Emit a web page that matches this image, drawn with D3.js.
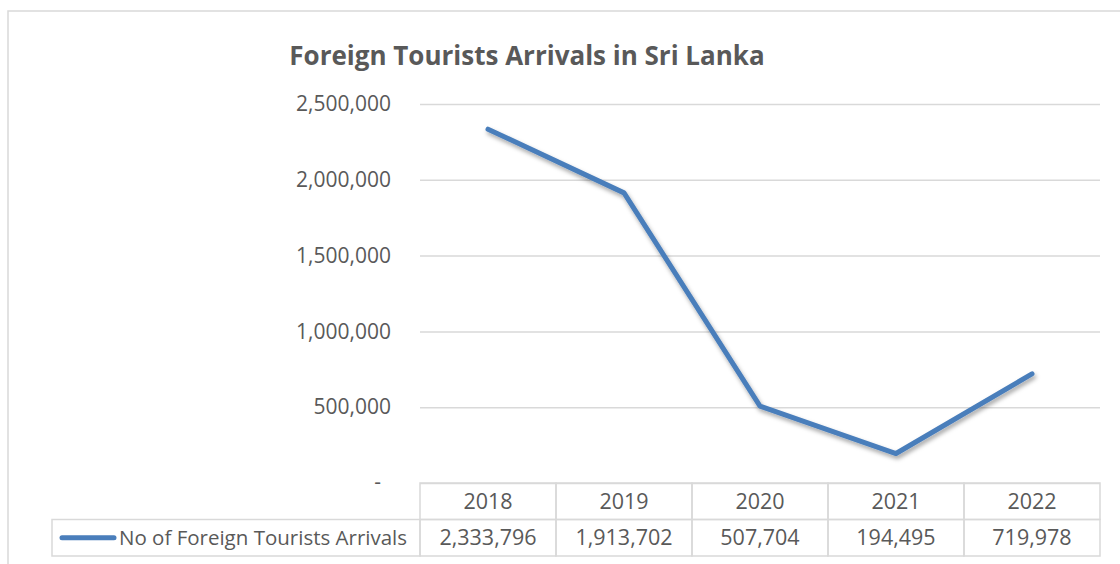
<!DOCTYPE html>
<html>
<head>
<meta charset="utf-8">
<script src="https://cdn.jsdelivr.net/npm/d3@7"></script>
<style>
  body { margin: 0; background: #fff; }
  svg { display: block; font-family: "Open Sans", sans-serif; }
</style>
</head>
<body>
<div id="chart"></div>
<script>
// data
const years = ['2018', '2019', '2020', '2021', '2022']
const arrivals = [2333796, 1913702, 507704, 194495, 719978]
const yTicks = [0, 500000, 1000000, 1500000, 2000000, 2500000]
const seriesName = 'No of Foreign Tourists Arrivals'
const chartTitle = 'Foreign Tourists Arrivals in Sri Lanka'

const width = 1120, height = 564
const plot = { left: 420, right: 1100, top: 104, bottom: 483 }
const rowH = 36.5
const textColor = '#595959'
const gridColor = '#d9d9d9'
const lineColor = '#4a7ebb'

const svg = d3.select('#chart').append('svg')
    .attr('width', width)
    .attr('height', height)

// drop shadow for the series line
const defs = svg.append('defs')
defs.append('filter')
    .attr('id', 'shadow')
    .attr('x', '-10%').attr('y', '-10%')
    .attr('width', '120%').attr('height', '130%')
    .append('feDropShadow')
    .attr('dx', 1.5).attr('dy', 3)
    .attr('stdDeviation', 2)
    .attr('flood-color', '#000')
    .attr('flood-opacity', 0.35)

// chart area border (top + left visible)
svg.append('path')
    .attr('d', `M8,${height} V11 H${width}`)
    .attr('fill', 'none')
    .attr('stroke', gridColor)
    .attr('stroke-width', 1.5)

// title
svg.append('text')
    .attr('x', 527)
    .attr('y', 65)
    .attr('text-anchor', 'middle')
    .attr('fill', textColor)
    .style('font-size', '26px')
    .style('font-weight', 'bold')
    .text(chartTitle)

const x = d3.scaleBand()
    .domain(years)
    .range([plot.left, plot.right])
    .padding(0)

const y = d3.scaleLinear()
    .domain([0, 2500000])
    .range([plot.bottom, plot.top])

// y axis with gridlines
const yAxis = d3.axisLeft(y)
    .tickValues(yTicks)
    .tickSize(plot.right - plot.left)
    .tickPadding(29)
    .tickFormat(d => d === 0 ? '-' : d3.format(',')(d))

const gy = svg.append('g')
    .attr('transform', `translate(${plot.right},0)`)
    .call(yAxis)
gy.select('.domain').remove()
gy.selectAll('.tick line')
    .attr('stroke', gridColor)
    .attr('stroke-width', 1.5)
gy.selectAll('.tick text')
    .attr('fill', textColor)
    .style('font-size', '21px')
    .style('font-family', '"Open Sans", sans-serif')
gy.selectAll('.tick')
    .filter(d => d === 0)
    .select('text')
    .attr('dx', -10)
    .attr('dy', '0.28em')

// line
const line = d3.line()
    .x((d, i) => x(years[i]) + x.bandwidth() / 2)
    .y(d => y(d))

svg.append('path')
    .datum(arrivals)
    .attr('d', line)
    .attr('fill', 'none')
    .attr('stroke', lineColor)
    .attr('stroke-width', 5)
    .attr('stroke-linejoin', 'round')
    .attr('stroke-linecap', 'round')
    .attr('filter', 'url(#shadow)')

// data table
const table = svg.append('g')
    .attr('fill', 'none')
    .attr('stroke', gridColor)
    .attr('stroke-width', 1.5)

table.selectAll('.hcell')
    .data(years)
    .join('rect')
    .attr('class', 'hcell')
    .attr('x', d => x(d))
    .attr('y', plot.bottom)
    .attr('width', x.bandwidth())
    .attr('height', rowH)

table.selectAll('.vcell')
    .data(years)
    .join('rect')
    .attr('class', 'vcell')
    .attr('x', d => x(d))
    .attr('y', plot.bottom + rowH)
    .attr('width', x.bandwidth())
    .attr('height', rowH)

table.append('rect')
    .attr('x', 52)
    .attr('y', plot.bottom + rowH)
    .attr('width', plot.left - 52)
    .attr('height', rowH)

svg.selectAll('.year-label')
    .data(years)
    .join('text')
    .attr('class', 'year-label')
    .attr('x', d => x(d) + x.bandwidth() / 2)
    .attr('y', plot.bottom + rowH / 2)
    .attr('dy', '0.35em')
    .attr('text-anchor', 'middle')
    .attr('fill', textColor)
    .style('font-size', '21.5px')
    .text(d => d)

svg.selectAll('.value-label')
    .data(arrivals)
    .join('text')
    .attr('class', 'value-label')
    .attr('x', (d, i) => x(years[i]) + x.bandwidth() / 2)
    .attr('y', plot.bottom + rowH * 1.5)
    .attr('dy', '0.35em')
    .attr('text-anchor', 'middle')
    .attr('fill', textColor)
    .style('font-size', '21.5px')
    .text(d => d3.format(',')(d))

// legend key in the table
svg.append('line')
    .attr('x1', 62).attr('x2', 114)
    .attr('y1', plot.bottom + rowH * 1.5)
    .attr('y2', plot.bottom + rowH * 1.5)
    .attr('stroke', lineColor)
    .attr('stroke-width', 5)
    .attr('stroke-linecap', 'round')

svg.append('text')
    .attr('x', 119)
    .attr('y', plot.bottom + rowH * 1.5)
    .attr('dy', '0.35em')
    .attr('fill', textColor)
    .style('font-size', '20.5px')
    .text(seriesName)
</script>
</body>
</html>
